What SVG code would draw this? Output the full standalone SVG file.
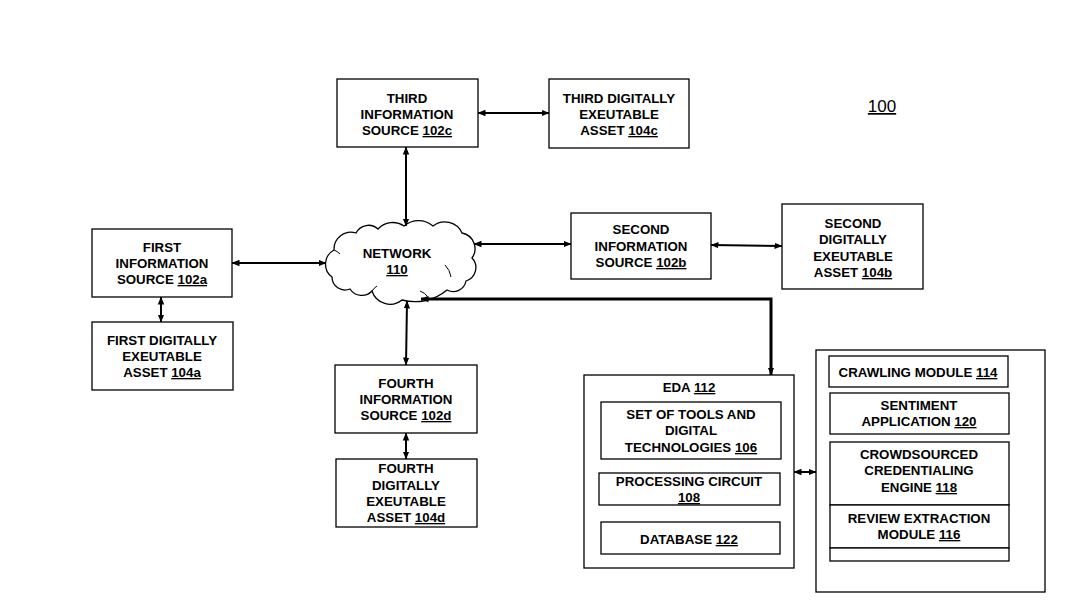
<svg xmlns="http://www.w3.org/2000/svg" width="1069" height="600" viewBox="0 0 1069 600">
<style>
.box{fill:#fff;stroke:#000;stroke-width:1.3}
.t{font-family:"Liberation Sans",Arial,sans-serif;font-weight:bold;font-size:13.3px;text-anchor:middle;fill:#000}
.u{text-decoration:underline}
.c{fill:none;stroke:#000;stroke-width:2}
.c3{fill:none;stroke:#000;stroke-width:3}
.in{fill:none;stroke:#000;stroke-width:1}
</style>
<defs>
<marker id="ah" viewBox="0 0 8 8" refX="7.5" refY="4" markerWidth="8" markerHeight="8" markerUnits="userSpaceOnUse" orient="auto-start-reverse">
<path d="M0,0.8 L8,4 L0,7.2 Z" fill="#000"/>
</marker>
</defs>
<rect width="1069" height="600" fill="#fff"/>
<text x="882" y="112" font-family="Liberation Sans,Arial,sans-serif" font-size="17" text-anchor="middle" class="u">100</text>

<g id="network">
<path class="box" stroke-width="1" d="M332,277 A16,16 0 0 1 334,250 A17,17 0 0 1 356,233 A14,14 0 0 1 378,229 A20,20 0 0 1 404,226 A22,22 0 0 1 433,226 A19,19 0 0 1 462,233 A16,16 0 0 1 472,258 A14,14 0 0 1 466,281 A13,13 0 0 1 447,290 A50,50 0 0 1 402,300 A19,19 0 0 1 372,291 A14,14 0 0 1 350,289 A13,13 0 0 1 332,277 Z"/>
<path class="in" d="M334,250 Q337,251 340,254"/>
<path class="in" d="M445,265 Q450,270 451,277"/>
<path class="in" d="M420,291 Q425,293 427,296"/>
<path class="in" d="M372,291 Q374,288 377,286"/>
<text class="t" x="397" y="258">NETWORK</text>
<text class="t u" x="397" y="274">110</text>
</g>

<g id="connectors">
<line class="c" x1="478" y1="113" x2="549" y2="113" marker-start="url(#ah)" marker-end="url(#ah)"/>
<line class="c" x1="406" y1="147" x2="406" y2="226" marker-start="url(#ah)" marker-end="url(#ah)"/>
<line class="c" x1="232" y1="263" x2="326" y2="263" marker-start="url(#ah)" marker-end="url(#ah)"/>
<line class="c" x1="474" y1="244" x2="571" y2="244" marker-start="url(#ah)" marker-end="url(#ah)"/>
<line class="c" x1="711" y1="245" x2="782" y2="246" marker-start="url(#ah)" marker-end="url(#ah)"/>
<line class="c" x1="161" y1="297" x2="161" y2="322" marker-start="url(#ah)" marker-end="url(#ah)"/>
<line class="c" x1="407" y1="301" x2="406" y2="365" marker-start="url(#ah)" marker-end="url(#ah)"/>
<line class="c" x1="406" y1="433" x2="406" y2="459" marker-start="url(#ah)" marker-end="url(#ah)"/>
<polyline class="c3" points="421,299 771,299 771,375" marker-start="url(#ah)" marker-end="url(#ah)"/>
<line class="c" x1="794" y1="472" x2="816" y2="472" marker-start="url(#ah)" marker-end="url(#ah)"/>
</g>

<g id="src102c">
<rect class="box" x="337" y="79" width="141" height="68"/>
<text class="t" x="407" y="103">THIRD</text>
<text class="t" x="407" y="119">INFORMATION</text>
<text class="t" x="407" y="135">SOURCE <tspan class="u">102c</tspan></text>
</g>

<g id="asset104c">
<rect class="box" x="549" y="79" width="140" height="69"/>
<text class="t" x="619" y="103">THIRD DIGITALLY</text>
<text class="t" x="619" y="119">EXEUTABLE</text>
<text class="t" x="619" y="135">ASSET <tspan class="u">104c</tspan></text>
</g>

<g id="src102a">
<rect class="box" x="92" y="229" width="140" height="68"/>
<text class="t" x="162" y="252">FIRST</text>
<text class="t" x="162" y="268">INFORMATION</text>
<text class="t" x="162" y="284">SOURCE <tspan class="u">102a</tspan></text>
</g>

<g id="asset104a">
<rect class="box" x="92" y="322" width="141" height="68"/>
<text class="t" x="162" y="345">FIRST DIGITALLY</text>
<text class="t" x="162" y="361">EXEUTABLE</text>
<text class="t" x="162" y="377">ASSET <tspan class="u">104a</tspan></text>
</g>

<g id="src102b">
<rect class="box" x="571" y="213" width="140" height="66"/>
<text class="t" x="641" y="234">SECOND</text>
<text class="t" x="641" y="250.5">INFORMATION</text>
<text class="t" x="641" y="267">SOURCE <tspan class="u">102b</tspan></text>
</g>

<g id="asset104b">
<rect class="box" x="782" y="204" width="141" height="85"/>
<text class="t" x="853" y="228">SECOND</text>
<text class="t" x="853" y="244">DIGITALLY</text>
<text class="t" x="853" y="261">EXEUTABLE</text>
<text class="t" x="853" y="277">ASSET <tspan class="u">104b</tspan></text>
</g>

<g id="src102d">
<rect class="box" x="335" y="365" width="142" height="68"/>
<text class="t" x="406" y="388">FOURTH</text>
<text class="t" x="406" y="404">INFORMATION</text>
<text class="t" x="406" y="420">SOURCE <tspan class="u">102d</tspan></text>
</g>

<g id="asset104d">
<rect class="box" x="336" y="459" width="141" height="68"/>
<text class="t" x="406" y="473">FOURTH</text>
<text class="t" x="406" y="489.5">DIGITALLY</text>
<text class="t" x="406" y="506">EXEUTABLE</text>
<text class="t" x="406" y="522">ASSET <tspan class="u">104d</tspan></text>
</g>

<g id="eda112">
<rect class="box" x="584" y="375" width="210" height="193"/>
<text class="t" x="689" y="392">EDA <tspan class="u">112</tspan></text>
</g>

<g id="tools106">
<rect class="box" x="601" y="402" width="180" height="57"/>
<text class="t" x="691" y="419">SET OF TOOLS AND</text>
<text class="t" x="691" y="435">DIGITAL</text>
<text class="t" x="691" y="452">TECHNOLOGIES <tspan class="u">106</tspan></text>
</g>

<g id="proc108">
<rect class="box" x="599" y="473" width="181" height="32"/>
<text class="t" x="689" y="486">PROCESSING CIRCUIT</text>
<text class="t u" x="689" y="502">108</text>
</g>

<g id="db122">
<rect class="box" x="601" y="522" width="179" height="32"/>
<text class="t" x="689" y="544">DATABASE <tspan class="u">122</tspan></text>
</g>

<g id="modules">
<rect class="box" x="816" y="350" width="229" height="242"/>
</g>

<g id="crawl114">
<rect class="box" x="829" y="356" width="179" height="31"/>
<text class="t" x="918" y="377">CRAWLING MODULE <tspan class="u">114</tspan></text>
</g>

<g id="sent120">
<rect class="box" x="830" y="393" width="179" height="41"/>
<text class="t" x="919" y="410">SENTIMENT</text>
<text class="t" x="919" y="426">APPLICATION <tspan class="u">120</tspan></text>
</g>

<g id="crowd118">
<rect class="box" x="830" y="442" width="179" height="63"/>
<text class="t" x="919" y="459">CROWDSOURCED</text>
<text class="t" x="919" y="475">CREDENTIALING</text>
<text class="t" x="919" y="492">ENGINE <tspan class="u">118</tspan></text>
</g>

<g id="review116">
<rect class="box" x="830" y="505" width="179" height="43"/>
<text class="t" x="919" y="523">REVIEW EXTRACTION</text>
<text class="t" x="919" y="539">MODULE <tspan class="u">116</tspan></text>
</g>

<g id="blank">
<rect class="box" x="830" y="548" width="179" height="13"/>
</g>
</svg>
